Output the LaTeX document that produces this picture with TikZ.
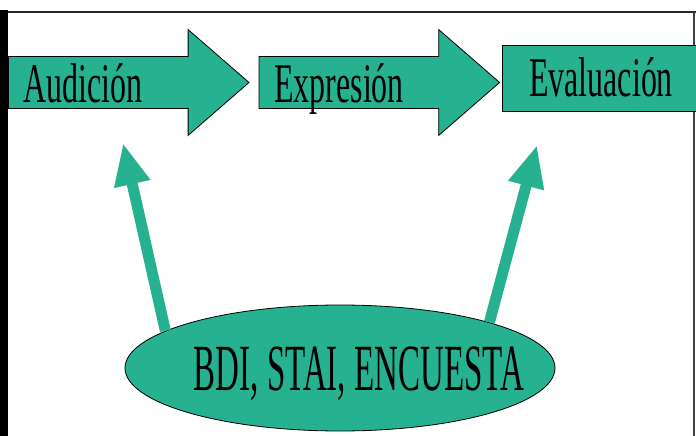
\documentclass[tikz,border=0pt]{standalone}
\usepackage{fontspec}
\usepackage{tikz}
\usetikzlibrary{
  arrows.meta,
  positioning,
  shapes.arrows,
  shapes.geometric
}
\newfontfamily\stepfont[FakeStretch=0.57]{Liberation Serif}
\newfontfamily\toolfont[FakeStretch=0.5]{Liberation Serif}
\definecolor{flowteal}{RGB}{38,178,145}
\tikzset{
  flowArrow/.style={
    single arrow,
    draw=black,
    fill=flowteal,
    line width=0.8pt,
    single arrow head extend=27pt,
    single arrow tip angle=82,
    inner xsep=15pt,
    inner ysep=0pt,
    text width=180pt,
    align=left,
    text height=45pt,
    text depth=6pt,
    font=\stepfont\fontsize{56}{60}\selectfont
  },
  flowBox/.style={
    rectangle,
    draw=black,
    fill=flowteal,
    line width=0.8pt,
    minimum width=197pt,
    minimum height=66pt,
    inner sep=0pt,
    text height=42pt,
    text depth=6pt,
    font=\stepfont\fontsize{56}{60}\selectfont
  },
  flowSource/.style={
    ellipse,
    draw=black,
    fill=flowteal,
    line width=0.8pt,
    minimum width=430pt,
    minimum height=126pt,
    inner sep=0pt,
    text height=44pt,
    text depth=0pt,
    font=\toolfont\fontsize{66}{70}\selectfont
  },
  flowLink/.style={
    -{Triangle[length=42pt,width=34pt]},
    line width=11pt,
    draw=flowteal
  }
}

\begin{document}
\begin{tikzpicture}[x=1pt,y=-1pt]
  \useasboundingbox (0,0) rectangle (696,436);
  \fill[white] (0,0) rectangle (696,436);

  % frame
  \fill[black] (0,10) rectangle (8,436);
  \draw[line width=2pt, black!85] (8,12) -- (696,12);
  \draw[line width=1.5pt, black!75] (694,12) -- (694,436);

  \node[flowArrow, anchor=tail] (audicion) at (8,82.5) {Audición};

  \node[flowArrow, right=9pt of audicion.tip, anchor=tail]
    (expresion) {Expresión};

  \node[flowBox, right=2pt of expresion.tip, anchor=west, yshift=4pt]
    (evaluacion) {Evaluación};

  % zero-width text keeps the ellipse at its set size
  \node[flowSource] (instrumentos) at (340,368)
    {\makebox[0pt]{\hspace*{38pt}BDI, STAI, ENCUESTA}};

  \coordinate (audIn) at (123,143);
  \coordinate (evalIn) at (537,145);

  \draw[flowLink] (instrumentos.168) -- (audIn);
  \draw[flowLink] (instrumentos.17) -- (evalIn);
\end{tikzpicture}
\end{document}
